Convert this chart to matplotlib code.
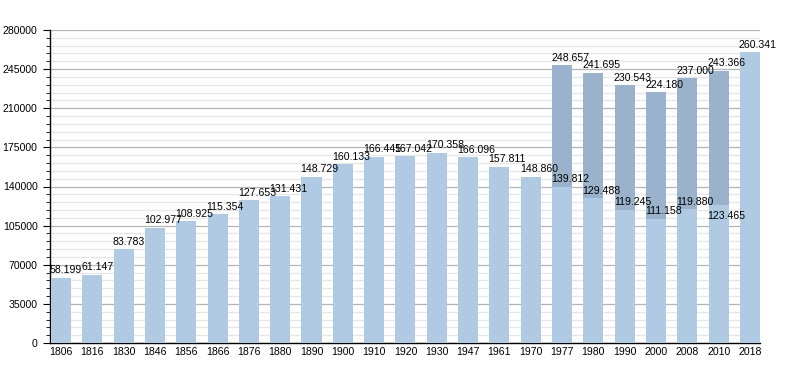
import numpy as np
import matplotlib.pyplot as plt
from matplotlib.ticker import MultipleLocator

plt.rcParams['font.family'] = ['Liberation Sans', 'DejaVu Sans']

years = ['1806', '1816', '1830', '1846', '1856', '1866', '1876', '1880', '1890',
         '1900', '1910', '1920', '1930', '1947', '1961', '1970', '1977', '1980',
         '1990', '2000', '2008', '2010', '2018']
population = [58199, 61147, 83783, 102977, 108925, 115354, 127653, 131431, 148729,
              160133, 166445, 167042, 170358, 166096, 157811, 148860, 248657, 241695,
              230543, 224180, 237000, 243366, 260341]
# lower part of the split bars (1977-2010)
lower_years = ['1977', '1980', '1990', '2000', '2008', '2010']
lower_values = [139812, 129488, 119245, 111158, 119880, 123465]

light = '#b1cae4'
dark = '#9ab2cb'

fig = plt.figure(figsize=(7.9, 3.73), dpi=100)
ax = fig.add_axes([0.0633, 0.0804, 0.8987, 0.8392])

x = np.arange(len(years))
w = 0.64
lower_map = dict(zip(lower_years, lower_values))

for i, (yr, val) in enumerate(zip(years, population)):
    if yr in lower_map:
        lo = lower_map[yr]
        ax.bar(i, lo, width=w, color=light, zorder=3)
        ax.bar(i, val - lo, bottom=lo, width=w, color=dark, zorder=3)
    else:
        ax.bar(i, val, width=w, color=light, zorder=3)
    ax.text(i - w / 2 - 0.03, val + 2200, f'{val / 1000:.3f}', ha='left', va='bottom',
            fontsize=7.6, zorder=4)

for yr, lo in zip(lower_years, lower_values):
    i = years.index(yr)
    if yr == '2010':
        ax.text(i - w / 2 - 0.03, lo - 5500, f'{lo / 1000:.3f}', ha='left', va='top',
                fontsize=7.6, zorder=4)
    else:
        ax.text(i - w / 2 - 0.03, lo + 2200, f'{lo / 1000:.3f}', ha='left', va='bottom',
                fontsize=7.6, zorder=4)

ax.set_xlim(-0.35, len(years) - 1 + 0.32)
ax.set_ylim(0, 280000)
ax.set_xticks(x)
ax.set_xticklabels(years, fontsize=7.6)
ax.tick_params(axis='x', length=0, pad=3)
ax.yaxis.set_major_locator(MultipleLocator(35000))
ax.yaxis.set_minor_locator(MultipleLocator(7000))
ax.tick_params(axis='y', which='major', length=5, labelsize=7.6, pad=4)
ax.tick_params(axis='y', which='minor', length=3)
ax.grid(axis='y', which='major', color='#b4b4b4', linewidth=0.9, zorder=0)
ax.grid(axis='y', which='minor', color='#e6e6e6', linewidth=0.9, zorder=0)
ax.spines['top'].set_visible(False)
ax.spines['right'].set_visible(False)
ax.spines['left'].set_linewidth(1.0)
ax.spines['bottom'].set_linewidth(1.0)

fig.savefig('out.png', dpi=100)
